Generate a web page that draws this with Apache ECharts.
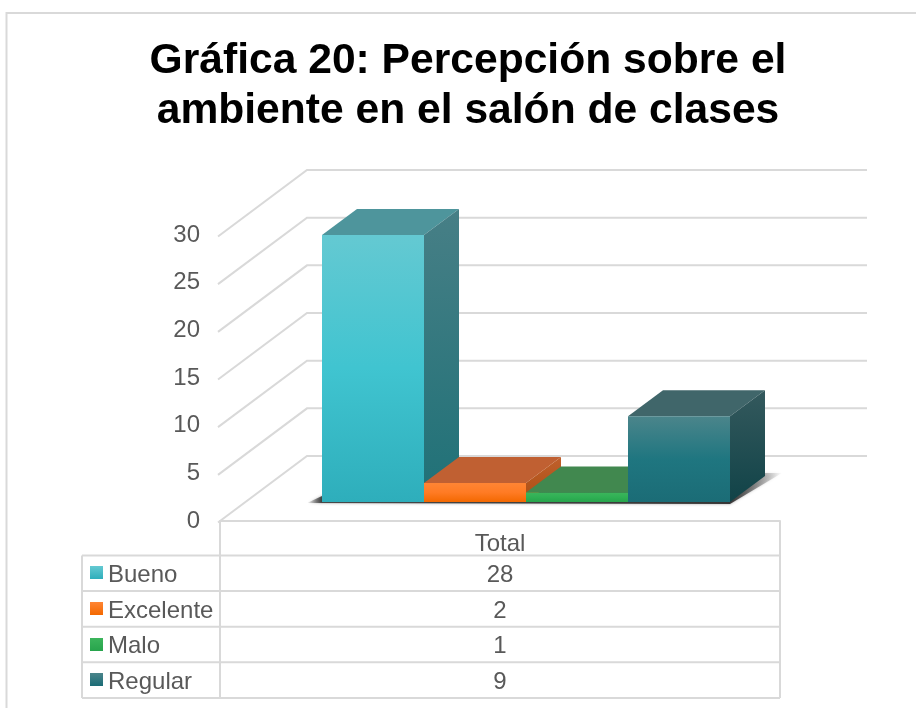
<!DOCTYPE html>
<html>
<head>
<meta charset="utf-8">
<title>Gráfica 20</title>
<script src="https://cdn.jsdelivr.net/npm/echarts@6/dist/echarts.min.js"></script>
<style>
  html, body { margin: 0; padding: 0; background: #fff; }
  #main { width: 916px; height: 708px; }
</style>
</head>
<body>
<div id="main"></div>
<script>
var titleText = 'Gráfica 20: Percepción sobre el\nambiente en el salón de clases';
var categories = ['Total'];
var seriesNames = ['Bueno', 'Excelente', 'Malo', 'Regular'];
var seriesValues = [28, 2, 1, 9];
var yTicks = [0, 5, 10, 15, 20, 25, 30];

// front, top, side colours of each bar
var barColors = [
    { front: ['#64c9d2', '#40c4d0', '#2eaebb'], top: '#4e959c', side: ['#477f86', '#1f7177'] },
    { front: ['#ff8534', '#ff7b24', '#f36800'], top: '#c06032', side: ['#c0602c', '#ab4e12'] },
    { front: ['#3cb55c', '#2fb054', '#27a44c'], top: '#41884f', side: ['#41884f', '#2c7a40'] },
    { front: ['#4b858b', '#1f7680', '#1b6c76'], top: '#40666a', side: ['#34595d', '#114348'] }
];

var textColor = '#595959';
var lineColor = '#d9d9d9';
var fontFamily = '"Liberation Sans", Arial, sans-serif';
var labelSize = 24;

// 3d layout: offset of the back wall, of the bar front and of the bar depth
var wallDx = 87, wallDy = -65;
var barDx = 26, barDy = -19;
var depthDx = 35, depthDy = -26;
var barWidthRatio = 102 / 560;

function vGrad(stops) {
    var list = stops.map(function (c, i) {
        return { offset: i / (stops.length - 1), color: c };
    });
    return new echarts.graphic.LinearGradient(0, 0, 0, 1, list);
}

function poly(points, fill) {
    return { type: 'polygon', shape: { points: points }, style: { fill: fill } };
}

function renderWall(params, api) {
    var p = api.coord([0, api.value(0)]);
    var band = api.size([1, 0])[0];
    var x0 = p[0] - band / 2;
    return {
        type: 'polyline',
        shape: { points: [[x0 - 2, p[1] + 1.5], [x0 + wallDx, p[1] + wallDy], [x0 + band + wallDx, p[1] + wallDy]] },
        style: { stroke: lineColor, lineWidth: 2, fill: null }
    };
}

function renderShadow(params, api) {
    var p = api.coord([0, 0]);
    var band = api.size([1, 0])[0];
    var w = band * barWidthRatio;
    var left = p[0] + barDx - w * 2;
    var right = p[0] + barDx + w * 2;
    var y = p[1] + barDy;
    return {
        type: 'polygon',
        shape: {
            points: [[left - 15, y + 1], [right, y + 2], [right + depthDx + 17, y - 29], [right + depthDx, y - 29], [left, y - 6]]
        },
        style: {
            fill: new echarts.graphic.LinearGradient(0, 0, 1, 0, [
                { offset: 0, color: 'rgba(50,50,50,0)' },
                { offset: 0.03, color: 'rgba(50,50,50,0.85)' },
                { offset: 0.89, color: 'rgba(40,40,40,0.9)' },
                { offset: 1, color: 'rgba(40,40,40,0)' }
            ]),
            shadowBlur: 3,
            shadowColor: 'rgba(90,90,90,0.6)'
        }
    };
}

function renderBar(params, api) {
    var idx = params.seriesIndex - 2;
    var c = barColors[idx];
    var top = api.coord([0, api.value(1)]);
    var bottom = api.coord([0, 0]);
    var band = api.size([1, 0])[0];
    var w = band * barWidthRatio;
    var x1 = top[0] + barDx + (idx - 2) * w;
    var x2 = x1 + w;
    var yt = top[1] + barDy;
    var yb = bottom[1] + barDy;
    return {
        type: 'group',
        children: [
            poly([[x1, yt], [x2, yt], [x2 + depthDx, yt + depthDy], [x1 + depthDx, yt + depthDy]], c.top),
            poly([[x2, yt], [x2 + depthDx, yt + depthDy], [x2 + depthDx, yb + depthDy], [x2, yb]], vGrad(c.side)),
            poly([[x1, yt], [x2, yt], [x2, yb], [x1, yb]], vGrad(c.front))
        ]
    };
}

// data table under the plot
var tableLeft = 82, tableMid = 220, tableRight = 780;
var tableTop = 521, headerBottom = 555.5, rowHeight = 35.6;

function tableLine(x1, y1, x2, y2) {
    return { type: 'line', silent: true, shape: { x1: x1, y1: y1, x2: x2, y2: y2 }, style: { stroke: lineColor, lineWidth: 2 } };
}

function tableText(x, y, str, align) {
    return {
        type: 'text', silent: true, x: x, y: y,
        style: { text: str, fill: textColor, font: labelSize + 'px ' + fontFamily, align: align, verticalAlign: 'middle' }
    };
}

var graphics = [
    { type: 'rect', silent: true, shape: { x: 6.5, y: 13, width: 960, height: 760 }, style: { fill: 'none', stroke: lineColor, lineWidth: 2 } },
    tableLine(tableMid, tableTop, tableMid, headerBottom + rowHeight * seriesNames.length),
    tableLine(tableRight, tableTop, tableRight, headerBottom + rowHeight * seriesNames.length),
    tableLine(tableLeft, headerBottom, tableLeft, headerBottom + rowHeight * seriesNames.length),
    tableLine(tableLeft, headerBottom, tableRight, headerBottom)
];
seriesNames.forEach(function (name, i) {
    var yLine = headerBottom + rowHeight * (i + 1);
    var yMid = yLine - rowHeight / 2;
    graphics.push(tableLine(tableLeft, yLine, tableRight, yLine));
    graphics.push({
        type: 'rect', silent: true,
        shape: { x: 90, y: Math.round(yMid) - 7, width: 13, height: 13 },
        style: { fill: vGrad([barColors[i].front[0], barColors[i].front[2]]) }
    });
    graphics.push(tableText(108, yMid + 2, name, 'left'));
    graphics.push(tableText(500, yMid + 2, String(seriesValues[i]), 'center'));
});

var series = [
    { type: 'custom', silent: true, renderItem: renderWall, data: yTicks.map(function (v) { return [v]; }), encode: { y: 0 }, z: 1 },
    { type: 'custom', silent: true, renderItem: renderShadow, data: [[0]], z: 2 }
];
seriesNames.forEach(function (name, i) {
    series.push({
        type: 'custom', name: name, silent: true, renderItem: renderBar,
        data: [[0, seriesValues[i]]], encode: { x: 0, y: 1 }, z: 3 + i
    });
});

var chart = echarts.init(document.getElementById('main'), null, { renderer: 'canvas' });
chart.setOption({
    animation: false,
    backgroundColor: '#ffffff',
    title: {
        text: titleText,
        left: 463,
        top: 31,
        textAlign: 'center',
        textStyle: { color: '#000000', fontFamily: fontFamily, fontWeight: 'bold', fontSize: 42.6, lineHeight: 50 }
    },
    grid: { left: 220, top: 235, width: 560, height: 286 },
    xAxis: {
        type: 'category',
        data: categories,
        axisTick: { show: false },
        axisLine: { lineStyle: { color: lineColor, width: 2 } },
        axisLabel: { color: textColor, fontFamily: fontFamily, fontSize: labelSize, margin: 11 }
    },
    yAxis: {
        type: 'value',
        min: 0,
        max: 30,
        interval: 5,
        axisLine: { show: false },
        axisTick: { show: false },
        splitLine: { show: false },
        axisLabel: { color: textColor, fontFamily: fontFamily, fontSize: labelSize, margin: 20, padding: [6, 0, 0, 0] }
    },
    graphic: graphics,
    series: series
});
</script>
</body>
</html>
